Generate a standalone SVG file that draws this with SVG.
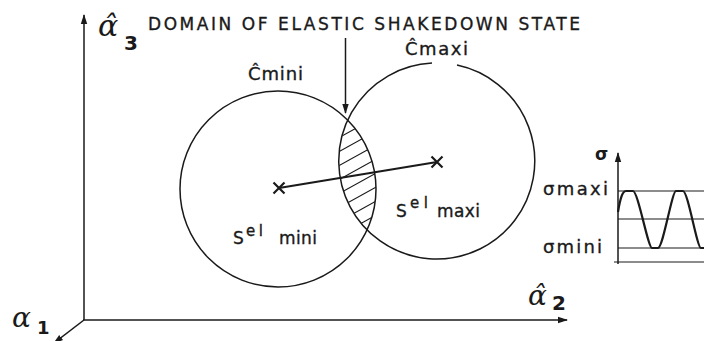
<svg xmlns="http://www.w3.org/2000/svg" width="704" height="341" viewBox="0 0 704 341">
<style>
.ln{fill:none;stroke:#1a1a1a;stroke-width:1.5}
.thin{fill:none;stroke:#1a1a1a;stroke-width:1.1}
.thick{fill:none;stroke:#1a1a1a;stroke-width:2.2}
.t{font-family:"DejaVu Sans","Liberation Sans",sans-serif;fill:#1a1a1a;stroke:#1a1a1a;stroke-width:0.35}
.g{font-family:"DejaVu Serif","Liberation Serif",serif;font-style:italic;fill:#1a1a1a}
.b{font-weight:bold;stroke-width:0}
</style>
<defs>
<marker id="ah" markerWidth="10" markerHeight="8" refX="9" refY="4" orient="auto" markerUnits="userSpaceOnUse">
<path d="M0,0.8 L10,4 L0,7.2 Z" fill="#1a1a1a"/>
</marker>
<clipPath id="cmin"><circle cx="278" cy="189" r="98"/></clipPath>
<clipPath id="cmax"><circle cx="437" cy="161" r="98"/></clipPath>
</defs>

<g id="axes">
<line class="ln" x1="84" y1="320" x2="84" y2="15" marker-end="url(#ah)"/>
<line class="ln" x1="83" y1="320" x2="567" y2="320" marker-end="url(#ah)"/>
<line class="ln" x1="84" y1="320" x2="54" y2="343" marker-end="url(#ah)"/>
</g>

<g id="circle-mini">
<circle class="ln" cx="278" cy="189" r="98"/>
</g>
<g id="circle-maxi">
<path class="ln" d="M457,65.1 A98,98 0 1 1 432,63.1"/>
</g>

<g id="domain-hatch" clip-path="url(#cmin)">
<g clip-path="url(#cmax)">
<g class="thin">
<line x1="320" y1="106" x2="400" y2="62"/>
<line x1="320" y1="120" x2="400" y2="76"/>
<line x1="320" y1="134" x2="400" y2="90"/>
<line x1="320" y1="148" x2="400" y2="104"/>
<line x1="320" y1="162" x2="400" y2="118"/>
<line x1="320" y1="176" x2="400" y2="132"/>
<line x1="320" y1="190" x2="400" y2="146"/>
<line x1="320" y1="204" x2="400" y2="160"/>
<line x1="320" y1="218" x2="400" y2="174"/>
<line x1="320" y1="232" x2="400" y2="188"/>
<line x1="320" y1="246" x2="400" y2="202"/>
<line x1="320" y1="260" x2="400" y2="216"/>
</g>
</g>
</g>

<g id="connectors">
<line class="thick" x1="279" y1="188" x2="437" y2="162"/>
<line class="ln" x1="345.5" y1="38" x2="345.5" y2="113" marker-end="url(#ah)"/>
</g>

<g id="centers">
<path class="thick" stroke-width="3" d="M273.5,182.5 L284.5,193.5 M284.5,182.5 L273.5,193.5"/>
<path class="thick" stroke-width="3" d="M431.5,156.5 L442.5,167.5 M442.5,156.5 L431.5,167.5"/>
</g>

<g id="labels">
<text class="g" x="98" y="36" font-size="30">α̂</text>
<text class="t b" x="124" y="50" font-size="20">3</text>
<text class="t" x="148" y="30" font-size="17" textLength="432" lengthAdjust="spacing">DOMAIN OF ELASTIC SHAKEDOWN STATE</text>
<text class="t" x="248" y="80" font-size="18" textLength="55" lengthAdjust="spacing">Ĉmini</text>
<text class="t" x="405" y="55" font-size="18" textLength="63" lengthAdjust="spacing">Ĉmaxi</text>
<text class="t" x="233" y="244" font-size="17">S</text>
<text class="t" x="246" y="236" font-size="15" textLength="17" lengthAdjust="spacing">el</text>
<text class="t" x="279" y="244" font-size="17" textLength="38" lengthAdjust="spacing">mini</text>
<text class="t" x="396" y="217" font-size="17">S</text>
<text class="t" x="410" y="208" font-size="15" textLength="18" lengthAdjust="spacing">el</text>
<text class="t" x="437" y="217" font-size="17" textLength="43" lengthAdjust="spacing">maxi</text>
<text class="g" x="528" y="305" font-size="28">α̂</text>
<text class="t b" x="552" y="310" font-size="20">2</text>
<text class="g" x="12" y="327" font-size="28">α</text>
<text class="t b" x="37" y="334" font-size="18">1</text>
</g>

<g id="sigma-plot">
<line class="ln" x1="618" y1="264" x2="618" y2="153" marker-end="url(#ah)"/>
<line class="thin" x1="618" y1="191" x2="704" y2="191"/>
<line class="thin" x1="618" y1="219" x2="704" y2="219"/>
<line class="thin" x1="618" y1="248" x2="704" y2="248"/>
<line class="thin" x1="614" y1="262" x2="704" y2="262"/>
<path class="thick" stroke-width="2.6" d="M618,212 C620,200 622,191 626,191 L633,191 C638,191 648,248 652,248 L658,248 C663,248 672,191 676,191 L683,191 C688,191 697,248 701,248 L706,248"/>
<text class="t b" x="595" y="160" font-size="17">σ</text>
<text class="t" x="543" y="195" font-size="18" textLength="65" lengthAdjust="spacing">σmaxi</text>
<text class="t" x="543" y="253" font-size="18" textLength="59" lengthAdjust="spacing">σmini</text>
</g>
</svg>
